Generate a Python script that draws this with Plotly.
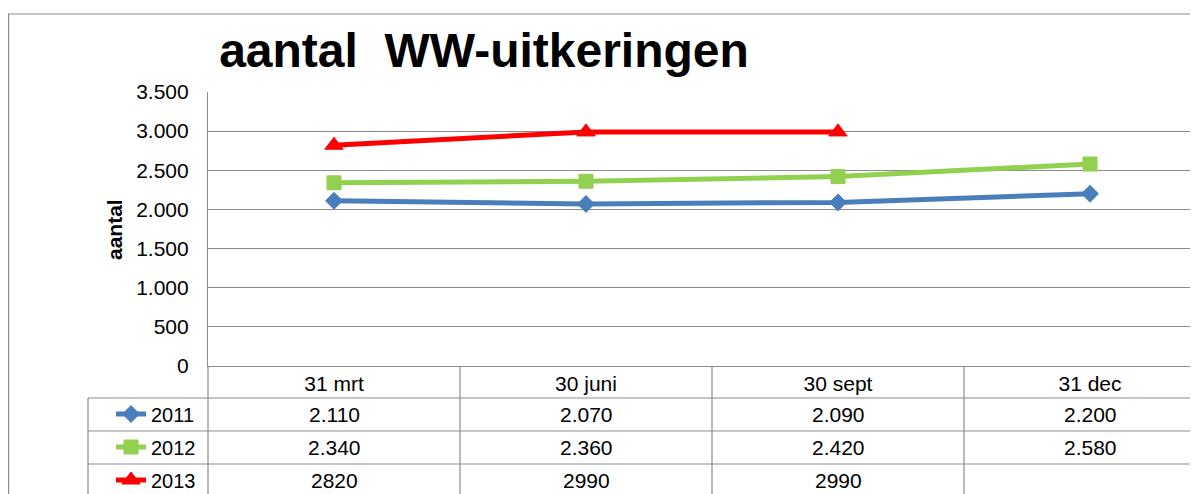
import plotly.graph_objects as go

# ---- data ----
categories = ["31 mrt", "30 juni", "30 sept", "31 dec"]
series_names = ["2011", "2012", "2013"]
values_2011 = [2110, 2070, 2090, 2200]
values_2012 = [2340, 2360, 2420, 2580]
values_2013 = [2820, 2990, 2990, None]
table_thousands_sep = [True, True, False]
y_ticks = [0, 500, 1000, 1500, 2000, 2500, 3000, 3500]

series_values = [values_2011, values_2012, values_2013]
colors = ["#4A7EBB", "#92D050", "#FF0000"]
symbols = ["diamond", "square", "triangle-up"]
msizes = [13, 14, 16]

W, H = 1198, 494
OFF = 8  # page body margin offset
FONT = "Liberation Sans, Arial, sans-serif"
GRAY = "#8C8C8C"
FS = 21


def fx(p):
    return (p - OFF) / W


def fy(p):
    return 1 - (p - OFF) / H


PLOT_L, PLOT_T, PLOT_B = 208, 92, 366
COL_W = 252
ROW_TOPS = [398, 431, 464, 497]

fig = go.Figure()
for i, name in enumerate(series_names):
    fig.add_trace(go.Scatter(
        x=categories, y=series_values[i], name=name, mode="lines+markers",
        legendgroup=name,
        line=dict(color=colors[i], width=5),
        marker=dict(symbol=symbols[i], size=msizes[i], color=colors[i],
                    line=dict(color=colors[i], width=1)),
        connectgaps=False,
    ))

annotations = []
# table values
for i, vals in enumerate(series_values):
    yc = (ROW_TOPS[i] + ROW_TOPS[i + 1]) / 2
    for j, v in enumerate(vals):
        if v is None:
            continue
        txt = f"{v:,}".replace(",", ".") if table_thousands_sep[i] else str(v)
        annotations.append(dict(x=j, xref="x", y=fy(yc), yref="paper", text=txt,
                                showarrow=False, font=dict(size=FS, color="black", family=FONT),
                                xanchor="center", yanchor="middle"))
# y-axis title
annotations.append(dict(x=fx(114), y=fy(229), xref="paper", yref="paper", text="<b>aantal</b>",
                        textangle=-90, showarrow=False, xanchor="center", yanchor="middle",
                        font=dict(size=FS, color="black", family=FONT)))

shapes = []
line_style = dict(color=GRAY, width=1.2)
# outer chart border
shapes.append(dict(type="rect", xref="paper", yref="paper", x0=fx(8.6), y0=fy(14), x1=fx(1215), y1=fy(520),
                   line=dict(color=GRAY, width=1.2), fillcolor="rgba(0,0,0,0)", layer="below"))
# table verticals between categories
for k in range(1, len(categories)):
    shapes.append(dict(type="line", xref="x", yref="paper", x0=k - 0.5, x1=k - 0.5,
                       y0=fy(PLOT_B), y1=fy(H + 20), line=line_style))
# table horizontals
for yt in ROW_TOPS[:3]:
    shapes.append(dict(type="line", xref="paper", yref="paper", x0=fx(88), x1=fx(W + 20),
                       y0=fy(yt), y1=fy(yt), line=line_style))
shapes.append(dict(type="line", xref="paper", yref="paper", x0=fx(88), x1=fx(88),
                   y0=fy(ROW_TOPS[0]), y1=fy(H + 20), line=line_style))
shapes.append(dict(type="line", xref="paper", yref="paper", x0=fx(PLOT_L), x1=fx(PLOT_L),
                   y0=fy(PLOT_B), y1=fy(H + 20), line=line_style))

fig.update_layout(
    width=W, height=H,
    margin=dict(l=0, r=0, t=0, b=0, pad=0, autoexpand=False),
    paper_bgcolor="white", plot_bgcolor="white",
    separators=",.",
    font=dict(family=FONT, size=FS, color="black"),
    title=dict(text="<b>aantal\u00a0 WW-uitkeringen</b>", x=fx(484), y=fy(50),
               xanchor="center", yanchor="middle", xref="paper", yref="paper",
               font=dict(size=48, family=FONT, color="black")),
    xaxis=dict(type="category", categoryorder="array", categoryarray=categories,
               domain=[fx(PLOT_L), 1], range=[-0.5, -0.5 + (W - (PLOT_L - OFF)) / COL_W],
               showgrid=False, showline=True, linecolor=GRAY, linewidth=1.2,
               ticks="", tickfont=dict(size=FS, family=FONT, color="black"),
               ticklabelstandoff=-1, zeroline=False, fixedrange=True, automargin=False),
    yaxis=dict(domain=[fy(PLOT_B), fy(PLOT_T)], range=[0, 3500], tickvals=y_ticks,
               tickformat=",", showgrid=True, gridcolor=GRAY, gridwidth=1.2,
               showline=True, linecolor=GRAY, linewidth=1.2, ticks="",
               tickfont=dict(size=FS, family=FONT, color="black"),
               ticklabelstandoff=14, zeroline=False, fixedrange=True, automargin=False),
    legend=dict(x=fx(111), y=fy(394.5), xanchor="left", yanchor="top",
                traceorder="grouped", tracegroupgap=4,
                font=dict(size=20, family=FONT, color="black"),
                bgcolor="rgba(0,0,0,0)", itemwidth=30),
    annotations=annotations,
    shapes=shapes,
)

fig.write_html("out.html")
